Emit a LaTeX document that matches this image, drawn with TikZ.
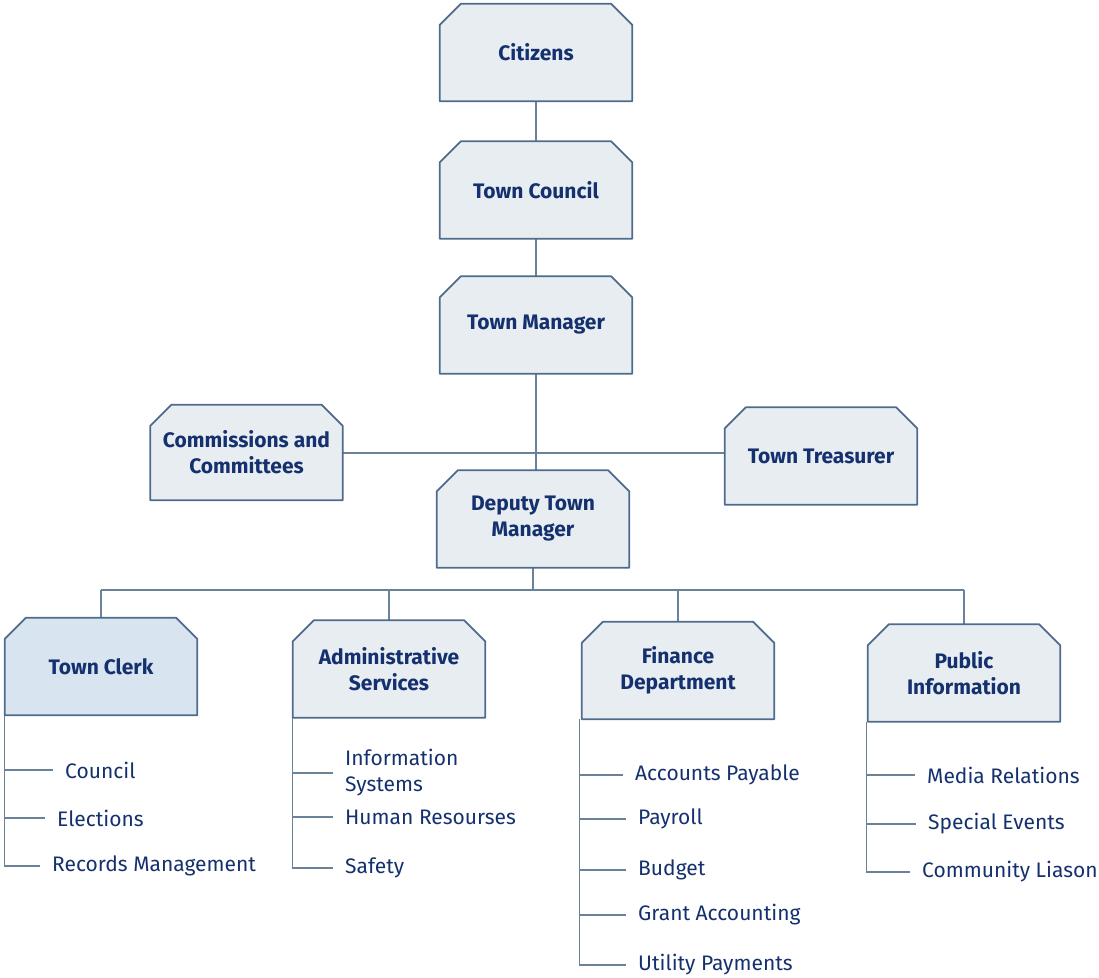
\documentclass[tikz,border=0pt]{standalone}
\usepackage{fontspec}
\setmainfont{Fira Sans}
\usetikzlibrary{backgrounds}
\definecolor{navy}{HTML}{14306E}
\definecolor{edgec}{HTML}{4F6B8C}
\definecolor{boxfill}{HTML}{E8EDF2}
\definecolor{clerkfill}{HTML}{D8E5F0}
\definecolor{wirec}{HTML}{6A8299}
\tikzset{
  box/.style={minimum width=192pt, minimum height=97pt, inner sep=0pt, text=navy,
    font=\bfseries\fontsize{21}{26}\selectfont, align=center},
  item/.style={anchor=west, inner xsep=12pt, inner ysep=0pt, text=navy,
    font=\fontsize{21}{26}\selectfont, align=left},
  wire/.style={draw=wirec, line width=1.3pt},
  boxline/.style={draw=edgec, line width=1.8pt, line join=round},
}
\newcommand\chamfbox[2]{%
  \filldraw[boxline, fill=#2] (#1.south west) -- ([yshift=-21pt]#1.north west)
    -- ([xshift=21pt]#1.north west) -- ([xshift=-21pt]#1.north east)
    -- ([yshift=-21pt]#1.north east) -- (#1.south east) -- cycle;}
\begin{document}
\begin{tikzpicture}[x=1pt,y=-1pt]
\useasboundingbox (0,0) rectangle (1099,977);
% main boxes
\node[box] (cit) at (536,52.5) {Citizens};
\node[box] (tc) at (536,190) {Town Council};
\node[box] (tm) at (536,325) {Town Manager};
\node[box, minimum height=95pt] (com) at (246.5,452.5) {Commissions and\\Committees};
\node[box] (tre) at (821,456) {Town Treasurer};
\node[box] (dep) at (533,519) {Deputy Town\\Manager};
\node[box] (clk) at (101,666.5) {Town Clerk};
\node[box] (adm) at (389,669) {Administrative\\Services};
\node[box] (fin) at (678,670.5) {Finance\\Department};
\node[box] (pub) at (964,673) {Public\\Information};
\coordinate (bus) at (533,590);
% items
\node[item] (c1) at (53,770) {Council};
\node[item] (c2) at (45,818) {Elections};
\node[item] (c3) at (40,866) {Records Management};
\node[item] (a1) at (333,773) {Information\\Systems};
\node[item] (a2) at (333,817) {Human Resourses};
\node[item] (a3) at (333,868) {Safety};
\node[item] (f1) at (623,775) {Accounts Payable};
\node[item] (f2) at (626,819) {Payroll};
\node[item] (f3) at (626,870) {Budget};
\node[item] (f4) at (626,915) {Grant Accounting};
\node[item] (f5) at (626,965) {Utility Payments};
\node[item] (p1) at (915,775) {Media Relations};
\node[item] (p2) at (916,824) {Special Events};
\node[item] (p3) at (910,872) {Community Liason};
\begin{scope}[on background layer]
  \draw[wire] (cit) -- (tc);
  \draw[wire] (tc) -- (tm);
  \draw[wire] (tm.south) -- (tm.south |- dep.north);
  \draw[wire] (com.east |- 0,453) -- (tre.west |- 0,453);
  \draw[wire] (dep.south) -- (bus);
  \draw[wire] (clk.north |- bus) -- (pub.north |- bus);
  \foreach \n in {clk,adm,fin,pub} \draw[wire] (\n.north |- bus) -- (\n.north);
  \draw[wire] (c1.west) -- (clk.south west |- c1.west);
  \draw[wire] (c2.west) -- (clk.south west |- c2.west);
  \draw[wire] (clk.south west) -- (clk.south west |- c3.west) -- (c3.west);
  \draw[wire] (a1.west) -- (adm.south west |- a1.west);
  \draw[wire] (a2.west) -- (adm.south west |- a2.west);
  \draw[wire] (adm.south west) -- (adm.south west |- a3.west) -- (a3.west);
  \foreach \k in {f1,f2,f3,f4} \draw[wire] (\k.west) -- ([xshift=-2pt]fin.south west |- \k.west);
  \draw[wire] ([xshift=-2pt]fin.south west) -- ([xshift=-2pt]fin.south west |- f5.west) -- (f5.west);
  \draw[wire] (p1.west) -- ([xshift=-1pt]pub.south west |- p1.west);
  \draw[wire] (p2.west) -- ([xshift=-1pt]pub.south west |- p2.west);
  \draw[wire] ([xshift=-1pt]pub.south west) -- ([xshift=-1pt]pub.south west |- p3.west) -- (p3.west);
  \foreach \n in {cit,tc,tm,com,tre,dep,adm,fin,pub} \chamfbox{\n}{boxfill};
  \chamfbox{clk}{clerkfill};
\end{scope}
\end{tikzpicture}
\end{document}
